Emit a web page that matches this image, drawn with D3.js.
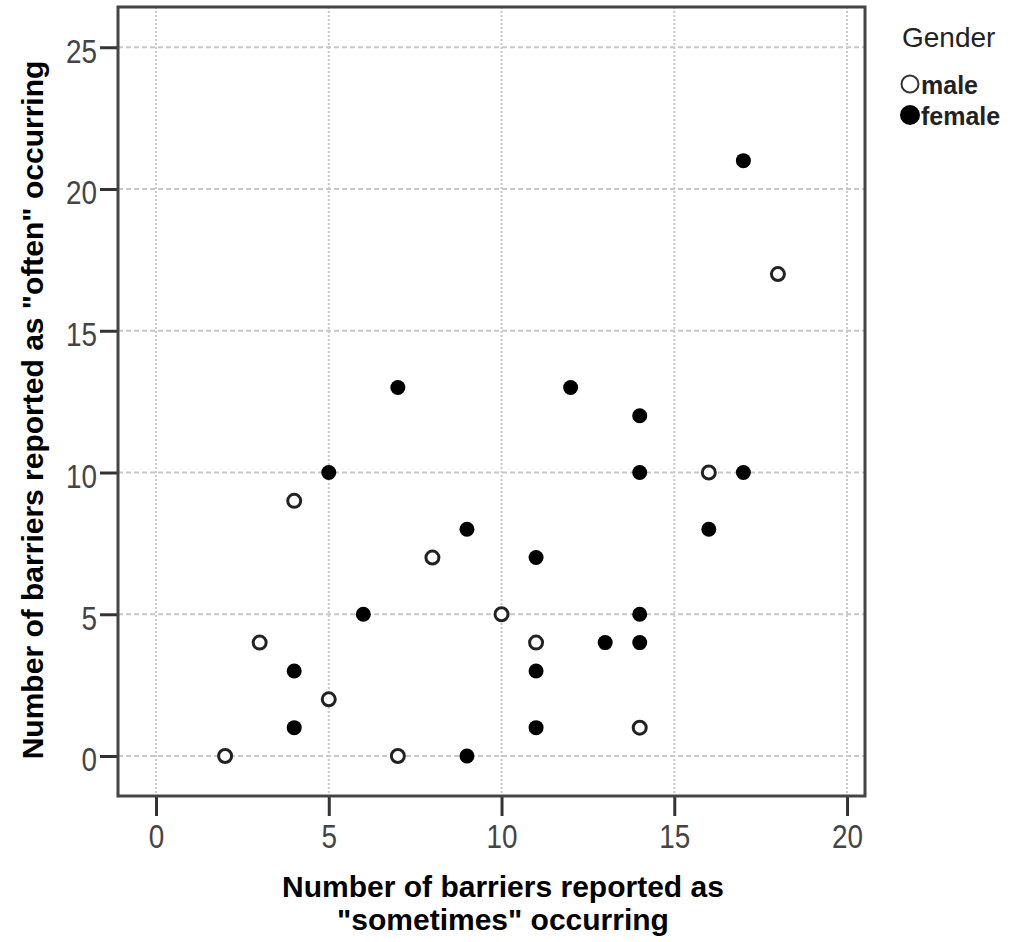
<!DOCTYPE html>
<html>
<head>
<meta charset="utf-8">
<script src="https://cdn.jsdelivr.net/npm/d3@7"></script>
<style>
  body { margin: 0; background: #fff; }
  text { font-family: "Liberation Sans", Arial, sans-serif; }
</style>
</head>
<body>
<div id="chart"></div>
<script>
// data
const maleX = [2, 3, 4, 5, 7, 8, 10, 11, 14, 16, 18];
const maleY = [0, 4, 9, 2, 0, 7, 5, 4, 1, 10, 17];
const femaleX = [4, 4, 5, 6, 7, 9, 9, 11, 11, 11, 12, 13, 14, 14, 14, 14, 16, 17, 17];
const femaleY = [3, 1, 10, 5, 13, 8, 0, 7, 3, 1, 13, 4, 12, 10, 5, 4, 8, 21, 10];
const xTicks = [0, 5, 10, 15, 20];
const yTicks = [0, 5, 10, 15, 20, 25];
const groups = ['male', 'female'];

const width = 1011, height = 942;
const margin = {top: 7, right: 146, bottom: 146, left: 118};

const svg = d3.select('#chart').append('svg')
  .attr('width', width)
  .attr('height', height);

const x = d3.scaleLinear().domain([-1.1, 20.52]).range([margin.left, width - margin.right]);
const y = d3.scaleLinear().domain([-1.41, 26.42]).range([height - margin.bottom, margin.top]);

const plotW = width - margin.left - margin.right,
      plotH = height - margin.top - margin.bottom;

// gridlines
svg.append('g').selectAll('line')
  .data(xTicks).enter().append('line')
  .attr('x1', d => x(d)).attr('x2', d => x(d))
  .attr('y1', margin.top).attr('y2', height - margin.bottom)
  .attr('stroke', '#c8c8c8').attr('stroke-width', 2)
  .attr('stroke-dasharray', '2,2');

svg.append('g').selectAll('line')
  .data(yTicks).enter().append('line')
  .attr('x1', margin.left).attr('x2', width - margin.right)
  .attr('y1', d => y(d)).attr('y2', d => y(d))
  .attr('stroke', '#c8c8c8').attr('stroke-width', 2)
  .attr('stroke-dasharray', '5,3');

// axes (tick labels are narrow and tall in the original)
const squeeze = 0.82;
const xAxis = svg.append('g')
  .attr('transform', `translate(0, ${height - margin.bottom})`)
  .call(d3.axisBottom(x).tickValues(xTicks).tickSize(20).tickPadding(8));
const yAxis = svg.append('g')
  .attr('transform', `translate(${margin.left}, 0)`)
  .call(d3.axisLeft(y).tickValues(yTicks).tickSize(18).tickPadding(2));

[xAxis, yAxis].forEach(a => {
  a.select('.domain').remove();
  a.selectAll('.tick line').attr('stroke', '#333').attr('stroke-width', 3);
  a.selectAll('.tick text')
    .attr('fill', '#444')
    .attr('transform', `scale(${squeeze},1)`)
    .style('font-size', '34px')
    .style('font-family', '"Liberation Sans", Arial, sans-serif');
});
yAxis.selectAll('.tick text')
  .attr('x', -21 / squeeze)
  .attr('dy', '0.44em');

// frame
svg.append('rect')
  .attr('x', margin.left).attr('y', margin.top)
  .attr('width', plotW).attr('height', plotH)
  .attr('fill', 'none').attr('stroke', '#444').attr('stroke-width', 3);

// points
const pts = maleX.map((d, i) => ({x: d, y: maleY[i], g: 'male'}))
  .concat(femaleX.map((d, i) => ({x: d, y: femaleY[i], g: 'female'})));

svg.append('g').selectAll('circle')
  .data(pts).enter().append('circle')
  .attr('cx', d => x(d.x))
  .attr('cy', d => y(d.y))
  .attr('r', d => d.g === 'male' ? 6.5 : 7.5)
  .attr('fill', d => d.g === 'male' ? '#fff' : '#000')
  .attr('stroke', d => d.g === 'male' ? '#222' : 'none')
  .attr('stroke-width', 3);

// axis titles
svg.append('text')
  .attr('x', 503).attr('y', 897)
  .attr('text-anchor', 'middle')
  .style('font-size', '30px').style('font-weight', 'bold')
  .text('Number of barriers reported as');
svg.append('text')
  .attr('x', 503).attr('y', 930)
  .attr('text-anchor', 'middle')
  .style('font-size', '30px').style('font-weight', 'bold')
  .text('"sometimes" occurring');

svg.append('text')
  .attr('transform', 'translate(43, 410) rotate(-90)')
  .attr('text-anchor', 'middle')
  .style('font-size', '30px').style('font-weight', 'bold')
  .text('Number of barriers reported as "often" occurring');

// legend
const legend = svg.append('g').attr('transform', 'translate(900, 0)');
legend.append('text')
  .attr('x', 2).attr('y', 47)
  .style('font-size', '28px').attr('fill', '#222')
  .text('Gender');
const item = legend.selectAll('.item')
  .data(groups).enter().append('g')
  .attr('transform', (d, i) => `translate(0, ${84 + i * 31})`);
item.append('circle')
  .attr('cx', 10).attr('cy', 0)
  .attr('r', d => d === 'male' ? 8.5 : 10)
  .attr('fill', d => d === 'male' ? '#fff' : '#000')
  .attr('stroke', d => d === 'male' ? '#333' : 'none')
  .attr('stroke-width', 2);
item.append('text')
  .attr('x', 21).attr('y', 10)
  .style('font-size', '25px').style('font-weight', 'bold')
  .attr('fill', '#222')
  .text(d => d);
</script>
</body>
</html>
